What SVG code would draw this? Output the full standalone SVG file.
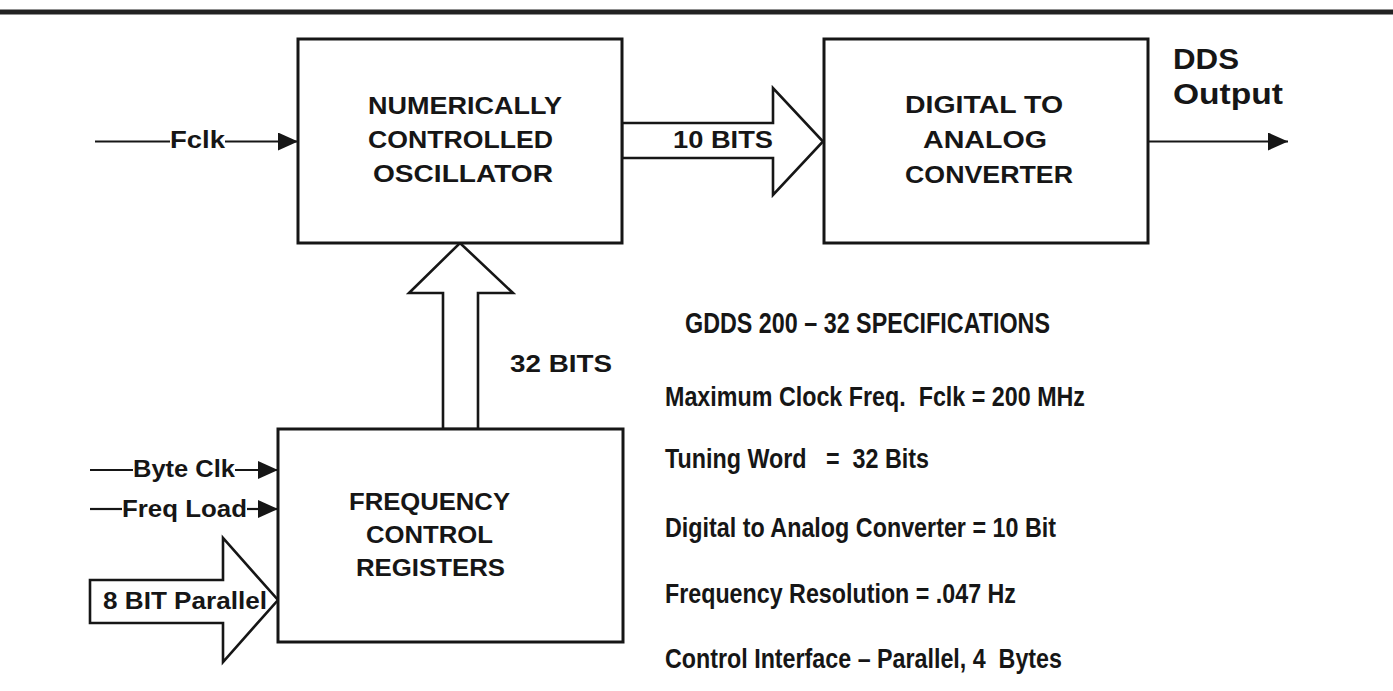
<svg xmlns="http://www.w3.org/2000/svg" width="1393" height="691" viewBox="0 0 1393 691">
<style>
  text{font-family:"Liberation Sans",Arial,sans-serif;font-weight:bold;fill:#161616;white-space:pre}
  .lbl{font-size:23px}
  .big{font-size:29px}
  .spec{font-size:27px}
  .box{fill:#fff;stroke:#161616;stroke-width:3}
  .fat{fill:#fff;stroke:#161616;stroke-width:2.6;stroke-linejoin:miter}
  .wire{stroke:#161616;stroke-width:2.2;fill:none}
</style>
<defs>
  <marker id="ah" markerUnits="userSpaceOnUse" markerWidth="20" markerHeight="18" refX="20" refY="9" orient="auto">
    <path d="M0,0 L20,9 L0,18 z" fill="#161616"/>
  </marker>
</defs>
<rect x="0" y="9.5" width="1393" height="5" fill="#222"/>

<g id="connectors">
  <line class="wire" x1="95" y1="141.5" x2="170" y2="141.5"/>
  <line class="wire" x1="225" y1="141.5" x2="298" y2="141.5" marker-end="url(#ah)"/>
  <line class="wire" x1="1148" y1="141.5" x2="1288" y2="141.5" marker-end="url(#ah)"/>
  <line class="wire" x1="90" y1="470" x2="133" y2="470"/>
  <line class="wire" x1="235" y1="470" x2="278" y2="470" marker-end="url(#ah)"/>
  <line class="wire" x1="90" y1="509" x2="122" y2="509"/>
  <line class="wire" x1="247" y1="509" x2="278" y2="509" marker-end="url(#ah)"/>
  <polygon class="fat" points="622,123 773,123 773,88 823,141.5 773,195 773,158 622,158"/>
  <polygon class="fat" points="443,429 443,293 409,293 460,243 513,293 478,293 478,429"/>
  <polygon class="fat" points="90,580 223,580 223,538 278,600 223,662 223,623 90,623"/>
  <text class="lbl" x="170" y="148" textLength="55" lengthAdjust="spacingAndGlyphs">Fclk</text>
  <text class="lbl" x="673" y="148" textLength="100" lengthAdjust="spacingAndGlyphs">10 BITS</text>
  <text class="lbl" x="510" y="372" textLength="102" lengthAdjust="spacingAndGlyphs">32 BITS</text>
  <text class="lbl" x="133" y="477" textLength="102" lengthAdjust="spacingAndGlyphs">Byte Clk</text>
  <text class="lbl" x="122" y="517" textLength="125" lengthAdjust="spacingAndGlyphs">Freq Load</text>
  <text class="lbl" x="103" y="609" textLength="164" lengthAdjust="spacingAndGlyphs">8 BIT Parallel</text>
  <text class="big" x="1173" y="69" textLength="66" lengthAdjust="spacingAndGlyphs">DDS</text>
  <text class="big" x="1173" y="104" textLength="110" lengthAdjust="spacingAndGlyphs">Output</text>
</g>

<g id="nco">
  <rect class="box" x="298" y="39" width="324" height="204"/>
  <text class="lbl" x="368" y="114" textLength="194" lengthAdjust="spacingAndGlyphs">NUMERICALLY</text>
  <text class="lbl" x="368" y="148" textLength="185" lengthAdjust="spacingAndGlyphs">CONTROLLED</text>
  <text class="lbl" x="373" y="182" textLength="180" lengthAdjust="spacingAndGlyphs">OSCILLATOR</text>
</g>

<g id="dac">
  <rect class="box" x="824" y="39" width="324" height="204"/>
  <text class="lbl" x="905" y="113" textLength="158" lengthAdjust="spacingAndGlyphs">DIGITAL TO</text>
  <text class="lbl" x="923" y="148" textLength="124" lengthAdjust="spacingAndGlyphs">ANALOG</text>
  <text class="lbl" x="905" y="183" textLength="168" lengthAdjust="spacingAndGlyphs">CONVERTER</text>
</g>

<g id="fcr">
  <rect class="box" x="278" y="429" width="345" height="213"/>
  <text class="lbl" x="349" y="510" textLength="161" lengthAdjust="spacingAndGlyphs">FREQUENCY</text>
  <text class="lbl" x="366" y="543" textLength="127" lengthAdjust="spacingAndGlyphs">CONTROL</text>
  <text class="lbl" x="356" y="576" textLength="149" lengthAdjust="spacingAndGlyphs">REGISTERS</text>
</g>

<g id="specs">
  <text class="big" x="685" y="333" textLength="365" lengthAdjust="spacingAndGlyphs">GDDS 200 – 32 SPECIFICATIONS</text>
  <text class="spec" x="665" y="406" textLength="420" lengthAdjust="spacingAndGlyphs" xml:space="preserve">Maximum Clock Freq.  Fclk = 200 MHz</text>
  <text class="spec" x="665" y="468" textLength="264" lengthAdjust="spacingAndGlyphs" xml:space="preserve">Tuning Word   =  32 Bits</text>
  <text class="spec" x="665" y="537" textLength="391" lengthAdjust="spacingAndGlyphs">Digital to Analog Converter = 10 Bit</text>
  <text class="spec" x="665" y="603" textLength="351" lengthAdjust="spacingAndGlyphs">Frequency Resolution = .047 Hz</text>
  <text class="spec" x="665" y="668" textLength="397" lengthAdjust="spacingAndGlyphs" xml:space="preserve">Control Interface – Parallel, 4  Bytes</text>
</g>
</svg>
